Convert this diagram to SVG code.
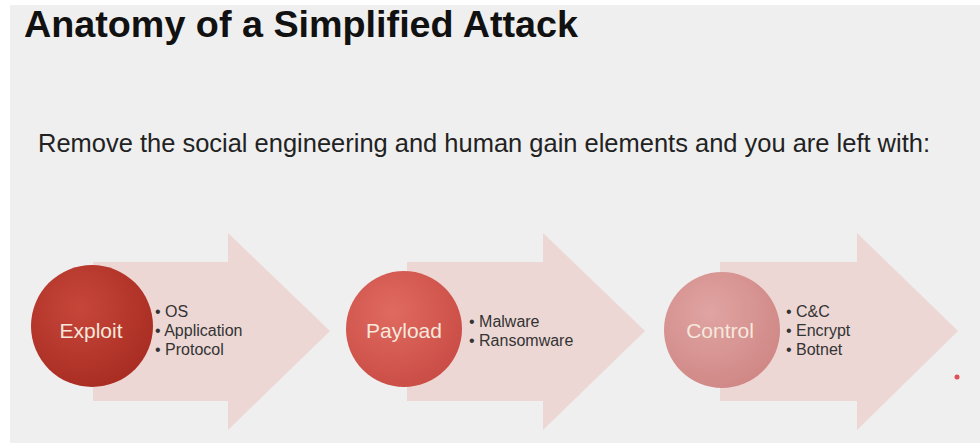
<svg xmlns="http://www.w3.org/2000/svg" width="980" height="443" viewBox="0 0 980 443">
<defs>
<style>
.t{font-family:"Liberation Sans",Arial,sans-serif}
.title{font-size:36px;font-weight:bold;fill:#111}
.sub{font-size:25px;fill:#222}
.lab{font-size:21px;fill:#f6e8dc}
.bul{font-size:16px;fill:#333}
.arr{fill:#ecd7d4}
</style>
<radialGradient id="g1" cx="0.4" cy="0.35" r="0.7">
<stop offset="0" stop-color="#c7463a"/><stop offset="1" stop-color="#a82c22"/>
</radialGradient>
<radialGradient id="g2" cx="0.4" cy="0.35" r="0.7">
<stop offset="0" stop-color="#e06a60"/><stop offset="1" stop-color="#c94c45"/>
</radialGradient>
<radialGradient id="g3" cx="0.4" cy="0.35" r="0.7">
<stop offset="0" stop-color="#e0a4a2"/><stop offset="1" stop-color="#cf8785"/>
</radialGradient>
</defs>
<rect width="980" height="443" fill="#ffffff"/>
<rect x="10" y="5" width="970" height="438" fill="#efefef"/>
<text class="t title" x="24" y="37" textLength="554" lengthAdjust="spacingAndGlyphs">Anatomy of a Simplified Attack</text>
<text class="t sub" x="38" y="152" textLength="892" lengthAdjust="spacingAndGlyphs">Remove the social engineering and human gain elements and you are left with:</text>
<g id="exploit">
<path class="arr" d="M93,262 H228 V233 L330,331 L228,430 V401 H93 Z"/>
<circle cx="92" cy="326" r="61" fill="url(#g1)"/>
<text class="t lab" x="91" y="338" text-anchor="middle">Exploit</text>
<text class="t bul" x="155" y="317">• OS</text>
<text class="t bul" x="155" y="336">• Application</text>
<text class="t bul" x="155" y="355">• Protocol</text>
</g>
<g id="payload">
<path class="arr" d="M407,262 H543 V233 L645,331 L543,430 V401 H407 Z"/>
<circle cx="404" cy="329" r="58" fill="url(#g2)"/>
<text class="t lab" x="404" y="338" text-anchor="middle">Payload</text>
<text class="t bul" x="469" y="327">• Malware</text>
<text class="t bul" x="469" y="346">• Ransomware</text>
</g>
<g id="control">
<path class="arr" d="M720,262 H857 V233 L958,331 L857,430 V401 H720 Z"/>
<circle cx="722" cy="330" r="58" fill="url(#g3)"/>
<text class="t lab" x="720" y="338" text-anchor="middle">Control</text>
<text class="t bul" x="786" y="317">• C&amp;C</text>
<text class="t bul" x="786" y="336">• Encrypt</text>
<text class="t bul" x="786" y="355">• Botnet</text>
</g>
<circle cx="957" cy="377" r="2.5" fill="#e0505a"/>
</svg>
